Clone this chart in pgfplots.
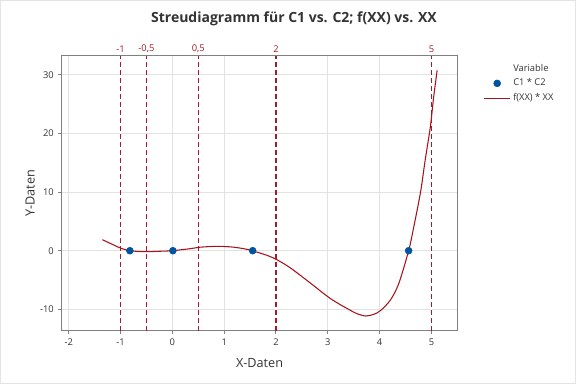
\documentclass[border=0pt]{standalone}
\usepackage{fontspec}
\setmainfont{Open Sans}
\usepackage{pgfplots}
\pgfplotsset{compat=1.18}
\definecolor{refred}{RGB}{168,24,40}
\definecolor{curvered}{RGB}{165,20,30}
\definecolor{ptblue}{RGB}{0,84,159}
\definecolor{gridgray}{RGB}{226,226,226}
\definecolor{framegray}{RGB}{128,128,128}
\definecolor{txt}{RGB}{51,51,51}
\begin{document}
\begin{tikzpicture}
\path[use as bounding box] (0,0) rectangle (432pt,288pt);
\draw[gray!22, line width=1.1pt] (0.55pt,0.55pt) rectangle (431.45pt,287.45pt);
\node[font=\bfseries\fontsize{10.5}{13}\selectfont, text=txt] at (220.5pt,273.8pt) {Streudiagramm für C1 vs. C2; f(XX) vs. XX};
\begin{axis}[
  at={(46.3pt,40pt)}, anchor=south west,
  scale only axis, width=296.7pt, height=206.25pt,
  xmin=-2.135, xmax=5.50, ymin=-13.65, ymax=33.3,
  xtick={-2,-1,0,1,2,3,4,5}, ytick={-10,0,10,20,30},
  grid=major, major grid style={gridgray, line width=0.75pt},
  axis line style={framegray, line width=0.9pt},
  tick style={framegray, line width=0.75pt},
  tick align=outside, major tick length=2.5pt, tick pos=left,
  tick label style={font=\fontsize{7}{8}\selectfont, text=txt},
  /pgf/number format/assume math mode=true,
  /pgf/number format/use comma,
  xlabel={X-Daten}, ylabel={Y-Daten},
  label style={font=\fontsize{9.5}{11}\selectfont, text=txt},
  xlabel style={at={(axis description cs:0.5,-0.117)}, anchor=center},
  ylabel style={at={(axis description cs:-0.080,0.5)}, anchor=center},
  legend style={at={(axis description cs:1.055,0.99)}, anchor=north west, draw=none, fill=none,
    font=\fontsize{7}{8}\selectfont, text=txt, row sep=0.3pt},
  legend cell align=left,
  clip=false,
]
\addlegendimage{empty legend}
\addlegendentry{Variable}
\addlegendimage{only marks, mark=*, mark size=2.6pt, color=ptblue}
\addlegendentry{C1 * C2}
\addlegendimage{curvered, line width=0.8pt, legend image code/.code={\draw[curvered, line width=0.8pt] (-0.05cm,0cm) -- (0.64cm,0cm);}}
\addlegendentry{f(XX) * XX}

\addplot[forget plot, white, line width=1pt] coordinates {(-1,-13.65) (-1,33.3)};
\addplot[forget plot, white, line width=1pt] coordinates {(2,-13.65) (2,33.3)};
\addplot[forget plot, white, line width=1pt] coordinates {(5,-13.65) (5,33.3)};
\addplot[forget plot, refred, line width=0.9pt, dash pattern=on 3.75pt off 2.25pt] coordinates {(-1,-13.65) (-1,33.3)};
\addplot[forget plot, refred, line width=0.9pt, dash pattern=on 3.75pt off 2.25pt] coordinates {(-0.5,-13.65) (-0.5,33.3)};
\addplot[forget plot, refred, line width=0.9pt, dash pattern=on 3.75pt off 2.25pt] coordinates {(0.5,-13.65) (0.5,33.3)};
\addplot[forget plot, refred, line width=0.9pt, dash pattern=on 3.75pt off 2.25pt] coordinates {(2,-13.65) (2,33.3)};
\addplot[forget plot, refred, line width=0.9pt, dash pattern=on 3.75pt off 2.25pt] coordinates {(5,-13.65) (5,33.3)};

\addplot[forget plot, curvered, line width=0.8pt, smooth] coordinates {
(-1.35,1.88) (-1.16,1.09) (-0.99,0.41) (-0.82,0) (-0.66,-0.12) (-0.5,-0.17) (-0.26,-0.10)
(0,0) (0.35,0.35) (0.51,0.58) (0.86,0.75) (1.15,0.63) (1.38,0.34) (1.54,0)
(1.83,-0.8) (2.02,-1.55) (2.28,-2.95) (2.66,-5.5) (3.0,-7.85) (3.2,-9.0) (3.37,-9.85)
(3.55,-10.7) (3.73,-11.15) (3.89,-10.85) (4.02,-10.2) (4.21,-8.4) (4.37,-5.6)
(4.56,0) (4.66,4.1) (4.79,10) (4.88,15.5) (4.98,21.2) (5.04,26.0) (5.11,30.8)};

\addplot[forget plot, only marks, mark=*, mark size=2.6pt, color=ptblue] coordinates {
(-0.82,0) (0.01,0) (1.55,0) (4.56,0)};

\node[font=\fontsize{7}{8}\selectfont, text=refred, yshift=5pt] at (axis cs:-1,33.3) {-1};
\node[font=\fontsize{7}{8}\selectfont, text=refred, yshift=5pt] at (axis cs:-0.5,33.3) {-0,5};
\node[font=\fontsize{7}{8}\selectfont, text=refred, yshift=5pt] at (axis cs:0.5,33.3) {0,5};
\node[font=\fontsize{7}{8}\selectfont, text=refred, yshift=5pt] at (axis cs:2,33.3) {2};
\node[font=\fontsize{7}{8}\selectfont, text=refred, yshift=5pt] at (axis cs:5,33.3) {5};
\end{axis}
\end{tikzpicture}
\end{document}
